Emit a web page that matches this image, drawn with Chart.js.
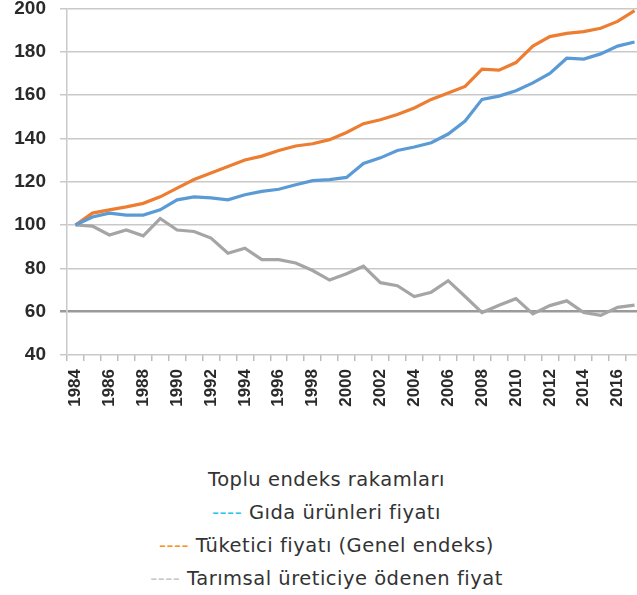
<!DOCTYPE html>
<html>
<head>
<meta charset="utf-8">
<script src="https://cdn.jsdelivr.net/npm/chart.js@4"></script>
<style>
  body { margin: 0; background: #fff; overflow: hidden; width: 637px; height: 595px; position: relative; }
  #wrap { position: absolute; left: 0; top: -17px; width: 663px; height: 425px; }
  #legend { position: absolute; left: 8px; top: 463px; width: 637px; text-align: center;
            font-family: "DejaVu Sans", sans-serif; font-size: 19.5px; letter-spacing: 0.5px;
            color: #333; line-height: 33px; }
</style>
</head>
<body>
<div id="wrap"><canvas id="chart" width="663" height="425"></canvas></div>
<div id="legend">
  <div>Toplu endeks rakamları</div>
  <div><span style="color:#2ec4f0">----</span> Gıda ürünleri fiyatı</div>
  <div><span style="color:#f7941d">----</span> Tüketici fiyatı (Genel endeks)</div>
  <div><span style="color:#c8c8c8">----</span> Tarımsal üreticiye ödenen fiyat</div>
</div>
<script>
const years = [];
for (let y = 1984; y <= 2017; y++) years.push(String(y));

// values (1984 = 100)
const food = [100, 103.7, 105.5, 104.6, 104.6, 107, 111.6, 113, 112.5, 111.6, 114, 115.5, 116.5, 118.6, 120.5, 121, 122, 128.4, 131, 134.4, 136, 138, 142, 148, 158, 159.5, 162, 165.6, 170, 177, 176.6, 179, 182.6, 184.5];
const consumer = [100, 105.5, 107, 108.4, 110, 113, 117, 121, 124, 127, 130, 131.8, 134.4, 136.5, 137.5, 139.4, 142.7, 146.8, 148.6, 151, 154, 158, 161, 164, 172, 171.5, 175, 182.6, 187, 188.5, 189.3, 190.8, 194, 199];
const producer = [100, 99.5, 95.4, 97.7, 95, 103, 97.7, 97, 94, 87, 89.3, 84, 84, 82.5, 79, 74.6, 77.5, 81, 73.4, 72, 67, 69, 74.3, 67, 59.6, 63, 66, 59, 62.8, 65, 59.6, 58.3, 62, 63];

const axisFont = "'Liberation Sans', Arial, sans-serif";

const ctx = document.getElementById('chart').getContext('2d');
new Chart(ctx, {
  type: 'line',
  data: {
    labels: years,
    datasets: [
      { label: 'Gıda ürünleri fiyatı', data: food, borderColor: '#5b9bd5', borderWidth: 3.2, pointRadius: 0, tension: 0 },
      { label: 'Tüketici fiyatı (Genel endeks)', data: consumer, borderColor: '#ed7d31', borderWidth: 3.2, pointRadius: 0, tension: 0 },
      { label: 'Tarımsal üreticiye ödenen fiyat', data: producer, borderColor: '#a5a5a5', borderWidth: 3.2, pointRadius: 0, tension: 0 }
    ]
  },
  options: {
    responsive: false,
    animation: false,
    layout: { padding: { top: 19, right: 5, bottom: 0, left: 0 } },
    plugins: { legend: { display: false }, tooltip: { enabled: false } },
    scales: {
      x: {
        offset: true,
        grid: { offset: true, drawOnChartArea: false, drawTicks: true, tickLength: 6, color: '#bdbdbd', lineWidth: 1.5 },
        border: { display: false },
        ticks: {
          autoSkip: false, minRotation: 90, maxRotation: 90, padding: 8,
          color: '#2a2a2a', font: { family: axisFont, size: 17, weight: 'bold' },
          callback: function(v, i) { return i % 2 === 0 ? this.getLabelForValue(v) : ''; }
        },
        afterFit: s => { s.height = 53; }
      },
      y: {
        min: 40, max: 200,
        ticks: { stepSize: 20, padding: 14, color: '#2a2a2a', font: { family: axisFont, size: 19, weight: 'bold' } },
        grid: {
          tickLength: 7,
          color: c => c.tick && c.tick.value === 60 ? '#9a9a9a' : '#c9c9c9',
          lineWidth: c => c.tick && c.tick.value === 60 ? 2.5 : 1.5
        },
        border: { display: true, color: '#c9c9c9', width: 1.5 },
        afterFit: s => { s.width = 67; }
      }
    }
  }
});
</script>
</body>
</html>
